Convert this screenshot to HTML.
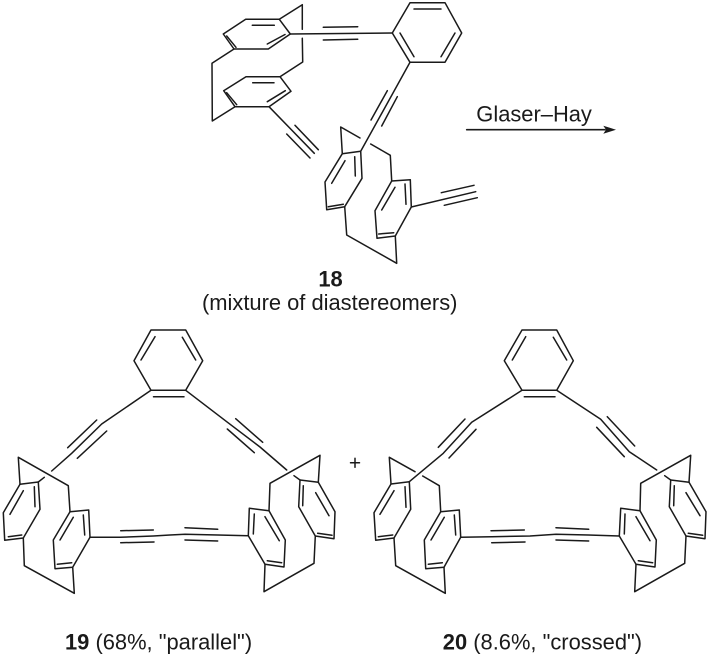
<!DOCTYPE html>
<html><head><meta charset="utf-8"><style>
html,body{margin:0;padding:0;background:#fff;width:710px;height:658px;overflow:hidden}
svg{display:block}
text{font-family:"Liberation Sans",sans-serif;fill:#1a1a1a;font-size:21.9px}
.b{font-weight:bold}
</style></head><body>
<svg width="710" height="658" viewBox="0 0 710 658" xmlns="http://www.w3.org/2000/svg">
<g fill="none" stroke="#1a1a1a" stroke-width="1.5" stroke-linejoin="round" stroke-linecap="round">
<!-- 18 top -->
<path d="M245.7 19.3L279.3 19.3L290.3 34L268.3 49L234 49L223.3 34Z"/>
<path d="M252.3 25.3L274.3 25.3M267.3 44L285 34.5M226.7 36L236 47.3"/>
<path d="M279.3 19.3L302.3 4.7L302.3 29.3M302.3 38.3L302.7 62L280 76.7"/>
<path d="M234 49L212 63.3L212.3 121L235 106.7"/>
<path d="M246 76.7L280 76.7L291 91.3L269 106.7L235 106.7L223.7 90.7Z"/>
<path d="M252.7 82.7L274 82.7M267.3 101.7L285.3 90.7M226.7 92.7L236.7 104.7"/>
<path d="M269 106.7L314.3 153.3M295 125.3L318.3 149.7M286.7 134L310 158"/>
<path d="M290.3 34L392.3 33M323.3 27.3L357.7 26.7M323.3 40L357.7 39.3"/>
<path d="M410 2.7L445 2.7L461.7 33L445 62.3L410 62.3L392.3 33Z"/>
<path d="M414 9L441 9M441 56.7L455 33M400 33L414 56.7"/>
<path d="M410 62.3L360.7 151.3M397.3 96.7L381.7 126M387.3 90.7L371 120"/>
<path d="M342.3 153.7L360.7 151.3L362 178.3L344.7 206.7L326.7 209.7L325 182Z"/>
<path d="M331.7 183.3L345 160.7M355.3 176L354.7 156.7M328.3 206.7L343.3 204.3"/>
<path d="M342.3 153.7L340.7 127L360 138M370.7 144L390.3 155.3L391.7 181"/>
<path d="M344.7 206.7L346.7 235L396.7 263.3L395.3 236"/>
<path d="M391.7 181L410.3 179.7L411.3 207L395.3 236L377 238.3L375 210.7Z"/>
<path d="M381.7 210L395 187.3M406 204.3L405 184M378.7 234L393.7 232.7"/>
<path d="M411.3 207L475.7 191.7M441.3 192.7L474 185.3M444.3 205.3L477.3 197.7"/>
<!-- 19 -->
<path d="M151 330L185.7 330L202.7 360.7L185.7 390.3L151 390.3L134 360.7Z"/>
<path d="M155 336.7L141 360M182.3 337.3L195.7 360M153.5 396.7L184 396.7"/>
<path d="M151 390.3L101.7 424L71.7 453.3L51.7 471M96.7 420L67.7 447.7M106.7 431L77.3 458.3"/>
<path d="M20 484.3L38.3 482L40 509.3L23.3 538L4.7 540.3L3.3 512.7Z"/>
<path d="M10 514.3L23.3 490.7M35 506.7L34.3 486.7M8.3 536.7L21.7 535"/>
<path d="M20 484.3L18.3 457.3L68.3 485.7L70 511.7M38.3 482L44.3 477.3"/>
<path d="M23.3 538L24.3 565.7L74.3 593.3L72.7 567.3"/>
<path d="M70 511.7L88.7 510L90 537.3L72.7 567.3L55 568.7L53.3 540Z"/>
<path d="M60 540L73.3 517.3M84.7 535L83.3 515M57.3 564.3L71.7 562.7"/>
<path d="M90 537.3L120 537.3L153.3 536L170 535L185 534.3L217.7 535L248.3 535.7"/>
<path d="M120.7 530.7L153.3 530M120.7 542.7L154 542M185 527.7L217.7 529.3M185 540L217.7 541"/>
<path d="M249.3 508.3L269 510.7L285.3 540L284 567L265 564.3L248.3 535.7Z"/>
<path d="M254.3 514L253.3 534M265 516.7L279.3 540.7M267.3 560.7L281.7 562.7"/>
<path d="M269 510.7L270 483.3L320 455.3L318.3 482.3"/>
<path d="M265 564.3L264 591.7L314 563.3L315.3 536"/>
<path d="M318.3 482.3L300 480L298.7 506.7L315.3 536L334 538.7L335 511.7Z"/>
<path d="M303.3 485.7L302.7 505.7M315.7 492.7L329 515.7M317.7 533.3L332 535.3M300 480L294 475.7"/>
<path d="M185.7 390.3L226.7 421.7L260 447L286.7 470M235.7 418.7L262.7 442.3M227.3 429L254.3 452.7"/>
<!-- 20 -->
<path d="M522 330L556.7 330L573.3 360.7L556.7 390.3L522 390.3L504.3 360.7Z"/>
<path d="M525.7 336.7L512.3 360M553.3 337.3L566.7 360M524.3 396.7L555 396.7"/>
<path d="M522 390.3L471.7 422.3L443.3 453.3L409.3 481.7M465 419L438.3 447.3M476 429.3L449 458"/>
<path d="M391 484L409.3 481.7L410.7 509.3L394 538L375.7 540.3L374 512.7Z"/>
<path d="M380 514.3L394 490.7M406 507.3L405 486.7M378.3 536.7L392.7 535"/>
<path d="M391 484L389.3 457.3L415 471.7M422.7 476L439.3 485.7L440.7 511.7"/>
<path d="M394 538L395.7 565.7L445.3 593.3L444 567.3"/>
<path d="M440.7 511.7L459.3 510L460.7 537.3L444 567.3L425.7 568.7L424.3 540Z"/>
<path d="M431 540L444.3 517.3M455.7 535L454.3 515M428.3 564.3L442.3 562.7"/>
<path d="M460.7 537.3L491.7 536.7L530 536L556 534.3L588.3 535L619.3 536"/>
<path d="M491 530.7L524.3 530M491.7 542.7L525 542M556 527.7L588.7 529.3M556 540L588.7 541"/>
<path d="M620.7 508.3L640 510.7L656.3 540L655 567L636 564.3L619.3 536Z"/>
<path d="M625 514L624.3 534M636 516.7L650 540.7M638.3 560.7L652.7 562.7"/>
<path d="M640 510.7L640.7 483.3L690.7 455.3L689 482.3"/>
<path d="M636 564.3L634.7 591.7L684.7 563.3L686 536"/>
<path d="M689 482.3L670.7 480L669.3 506.7L686 536L705 538.7L706 511.7Z"/>
<path d="M674.3 485.7L673.7 505.7M686 492.7L700 515.7M688.3 533.3L702.7 535.3M670.7 480L664.7 475.7"/>
<path d="M556.7 390.3L600.7 419.3L629.3 451.7L656.7 470M607.3 416.7L634.7 446M596.7 427.3L624.3 456.7"/>
<!-- plus -->
<path d="M350.5 462.7L359.5 462.7M355 458.2L355 467.2"/>
<!-- arrow -->
<path d="M466.7 129.7L605 129.7" stroke-width="1.6"/>
</g>
<path d="M616 129.7L603.3 125.7L606 129.7L603.3 133.7Z" fill="#1a1a1a"/>
<text x="476.3" y="121.7">Glaser–Hay</text>
<text class="b" x="330.5" y="286.7" text-anchor="middle">18</text>
<text x="202" y="310">(mixture of diastereomers)</text>
<text x="65" y="649.3"><tspan class="b">19</tspan> (68%, "parallel")</text>
<text x="442.8" y="649.3"><tspan class="b">20</tspan> (8.6%, "crossed")</text>
</svg>
</body></html>
